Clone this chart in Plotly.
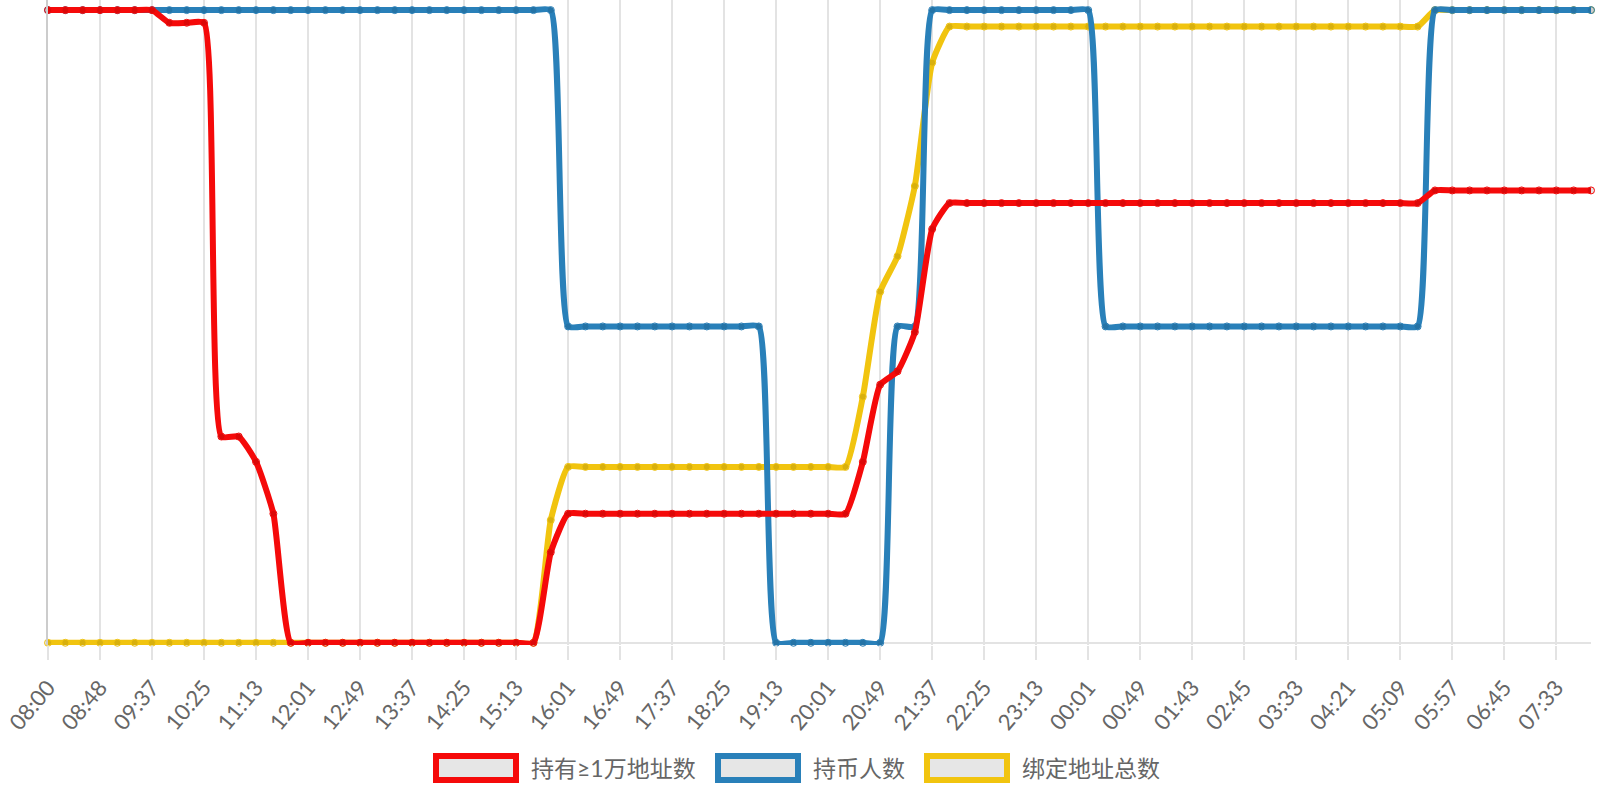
import plotly.graph_objects as go

# tick labels (one every third sample)
tick_labels = ['08:00', '08:48', '09:37', '10:25', '11:13', '12:01', '12:49', '13:37',
               '14:25', '15:13', '16:01', '16:49', '17:37', '18:25', '19:13', '20:01',
               '20:49', '21:37', '22:25', '23:13', '00:01', '00:49', '01:43', '02:45',
               '03:33', '04:21', '05:09', '05:57', '06:45', '07:33']

# series values (normalised)
holders_10k = [100, 100, 100, 100, 100, 100, 100, 98, 98, 98,
               32.6, 32.6, 28.6, 20.4, 0, 0, 0, 0, 0, 0,
               0, 0, 0, 0, 0, 0, 0, 0, 0, 14.3,
               20.4, 20.4, 20.4, 20.4, 20.4, 20.4, 20.4, 20.4, 20.4, 20.4,
               20.4, 20.4, 20.4, 20.4, 20.4, 20.4, 20.4, 28.6, 40.8, 42.9,
               49.1, 65.4, 69.5, 69.5, 69.5, 69.5, 69.5, 69.5, 69.5, 69.5,
               69.5, 69.5, 69.5, 69.5, 69.5, 69.5, 69.5, 69.5, 69.5, 69.5,
               69.5, 69.5, 69.5, 69.5, 69.5, 69.5, 69.5, 69.5, 69.5, 69.5,
               71.5, 71.5, 71.5, 71.5, 71.5, 71.5, 71.5, 71.5, 71.5, 71.5]

holders = [100, 100, 100, 100, 100, 100, 100, 100, 100, 100,
           100, 100, 100, 100, 100, 100, 100, 100, 100, 100,
           100, 100, 100, 100, 100, 100, 100, 100, 100, 100,
           50, 50, 50, 50, 50, 50, 50, 50, 50, 50,
           50, 50, 0, 0, 0, 0, 0, 0, 0, 50,
           50, 100, 100, 100, 100, 100, 100, 100, 100, 100,
           100, 50, 50, 50, 50, 50, 50, 50, 50, 50,
           50, 50, 50, 50, 50, 50, 50, 50, 50, 50,
           100, 100, 100, 100, 100, 100, 100, 100, 100, 100]

bound_total = [0, 0, 0, 0, 0, 0, 0, 0, 0, 0,
               0, 0, 0, 0, 0, 0, 0, 0, 0, 0,
               0, 0, 0, 0, 0, 0, 0, 0, 0, 19.4,
               27.8, 27.8, 27.8, 27.8, 27.8, 27.8, 27.8, 27.8, 27.8, 27.8,
               27.8, 27.8, 27.8, 27.8, 27.8, 27.8, 27.8, 38.9, 55.5, 61.1,
               72.2, 91.7, 97.4, 97.4, 97.4, 97.4, 97.4, 97.4, 97.4, 97.4,
               97.4, 97.4, 97.4, 97.4, 97.4, 97.4, 97.4, 97.4, 97.4, 97.4,
               97.4, 97.4, 97.4, 97.4, 97.4, 97.4, 97.4, 97.4, 97.4, 97.4,
               100, 100, 100, 100, 100, 100, 100, 100, 100, 100]

names = ['持有≥1万地址数', '持币人数', '绑定地址总数']
colors = ['rgb(245,10,10)', 'rgb(41,128,185)', 'rgb(241,196,15)']

xs = list(range(len(holders)))
tick_pos = xs[::3]

fig = go.Figure()
# drawn back to front: yellow, blue, red
for vals, name, col in [(bound_total, names[2], colors[2]),
                        (holders, names[1], colors[1]),
                        (holders_10k, names[0], colors[0])]:
    fig.add_trace(go.Scatter(
        x=xs, y=vals, name=name, mode='lines+markers',
        line=dict(color=col, width=6, shape='spline', smoothing=0.5),
        marker=dict(color='rgba(0,0,0,0.1)', size=7, line=dict(color=col, width=1)),
        cliponaxis=False, showlegend=False, hoverinfo='skip'))

# chart.js style legend boxes (pixel positions -> paper coords)
L = 48
W = 1600.0 - L - 9
H = 645.0
def px(x):
    return (x - L) / W
def py(y):
    return (H - y) / H

box_left = [433, 715, 924]
for i in range(3):
    x0 = box_left[i]
    fig.add_shape(type='rect', xref='paper', yref='paper',
                  x0=px(x0 + 3), x1=px(x0 + 83), y0=py(756), y1=py(780),
                  fillcolor='#e6e6e6', line=dict(color=colors[i], width=6))
    fig.add_annotation(xref='paper', yref='paper', x=px(x0 + 96), y=py(768),
                       text=names[i], showarrow=False, xanchor='left', yanchor='middle',
                       font=dict(size=23, color='#666', family='Lato, Noto Sans CJK SC'))

fig.update_layout(
    width=1600, height=800,
    margin=dict(l=L, r=9, t=0, b=155),
    plot_bgcolor='white', paper_bgcolor='white',
    font=dict(family='Lato, Noto Sans CJK SC', color='#666'),
    xaxis=dict(range=[0, len(xs) - 1], tickvals=tick_pos, ticktext=tick_labels,
               tickangle=-50, tickfont=dict(size=22, color='#666'),
               ticklabeloverflow='allow', ticklabelstandoff=6, automargin=False,
               showgrid=True, gridcolor='#e3e3e3', gridwidth=2,
               ticks='outside', ticklen=14, tickcolor='#e3e3e3', tickwidth=2,
               zeroline=False, showline=False),
    yaxis=dict(range=[-0.35, 101.6], showticklabels=False, showgrid=False,
               automargin=False,
               zeroline=True, zerolinecolor='#e3e3e3', zerolinewidth=2,
               showline=True, linecolor='#cccccc', linewidth=2),
)

fig.write_html('out.html', config={'displayModeBar': False},
               post_script="document.body.style.margin='0';")
